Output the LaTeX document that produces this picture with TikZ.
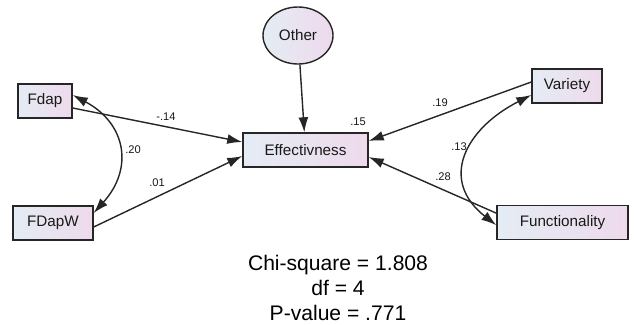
\documentclass[tikz,border=0pt]{standalone}
\usepackage{fontspec}
\setmainfont{Liberation Sans}
\usepackage{tikz}
\usetikzlibrary{arrows.meta,shapes,positioning}

\definecolor{boxleft}{HTML}{E4ECF4}
\definecolor{boxright}{HTML}{EEDAEC}
\definecolor{edgegray}{HTML}{262626}

\tikzset{
  varbox/.style={draw=edgegray,line width=1.2pt,left color=boxleft,right color=boxright,
    minimum height=1.02cm,inner sep=0pt,font=\fontsize{13}{15}\selectfont,text=black!90},
  regline/.style={draw=edgegray,line width=1.2pt,-{Latex[length=4.5mm,width=3mm]}},
  covline/.style={draw=edgegray,line width=1.2pt,{Latex[length=4.5mm,width=3mm]}-{Latex[length=4.5mm,width=3mm]}},
  coef/.style={font=\fontsize{9.5}{11}\selectfont,inner sep=0pt,text=black!90}
}

\begin{document}
\begin{tikzpicture}[x=0.03cm,y=-0.03cm]
\useasboundingbox (0,0) rectangle (634,324);
\node[varbox,minimum width=1.62cm] (fdap) at (45,101) {Fdap};
\node[varbox,minimum width=2.4cm] (fdapw) at (53,223) {FDapW};
\node[varbox,minimum width=3.75cm] (eff) at (305.5,150) {Effectivness};
\node[varbox,ellipse,minimum width=2.1cm,minimum height=1.71cm] (other) at (298,35.5) {Other};
\node[varbox,minimum width=2.1cm] (variety) at (567,86) {Variety};
\node[varbox,minimum width=3.93cm] (func) at (562.5,222.5) {Functionality};

\draw[regline] (other) -- (eff);
\draw[regline] ([yshift=-0.21cm]fdap.east) -- ([yshift=0.24cm]eff.west);
\draw[regline] ([yshift=-0.12cm]fdapw.east) -- ([yshift=-0.18cm]eff.west);
\draw[regline] ([yshift=0.12cm]variety.west) -- ([yshift=0.27cm]eff.east);
\draw[regline] ([yshift=0.28cm]func.west) -- ([yshift=-0.21cm]eff.east);
\draw[covline] ([yshift=0.18cm]fdap.east) to[out=-28,in=48,looseness=1.29] ([yshift=0.3cm]fdapw.east);
\draw[covline] ([yshift=-0.27cm]variety.west) to[out=207,in=142,looseness=1.4] ([yshift=-0.08cm]func.west);

\node[coef] (c14) at (166,117) {-.14};
\node[coef] (c20) at (133,150) {.20};
\node[coef] (c01) at (157,183) {.01};
\node[coef] (r2) at (358,122) {.15};
\node[coef] (c19) at (440,103) {.19};
\node[coef] (c13) at (459,147) {.13};
\node[coef] (c28) at (443,177) {.28};

\node[align=center,font=\fontsize{18}{21.3}\selectfont,text=black] (fit) at (338,288)
  {Chi-square = 1.808\\df = 4\\P-value = .771};
\end{tikzpicture}
\end{document}
